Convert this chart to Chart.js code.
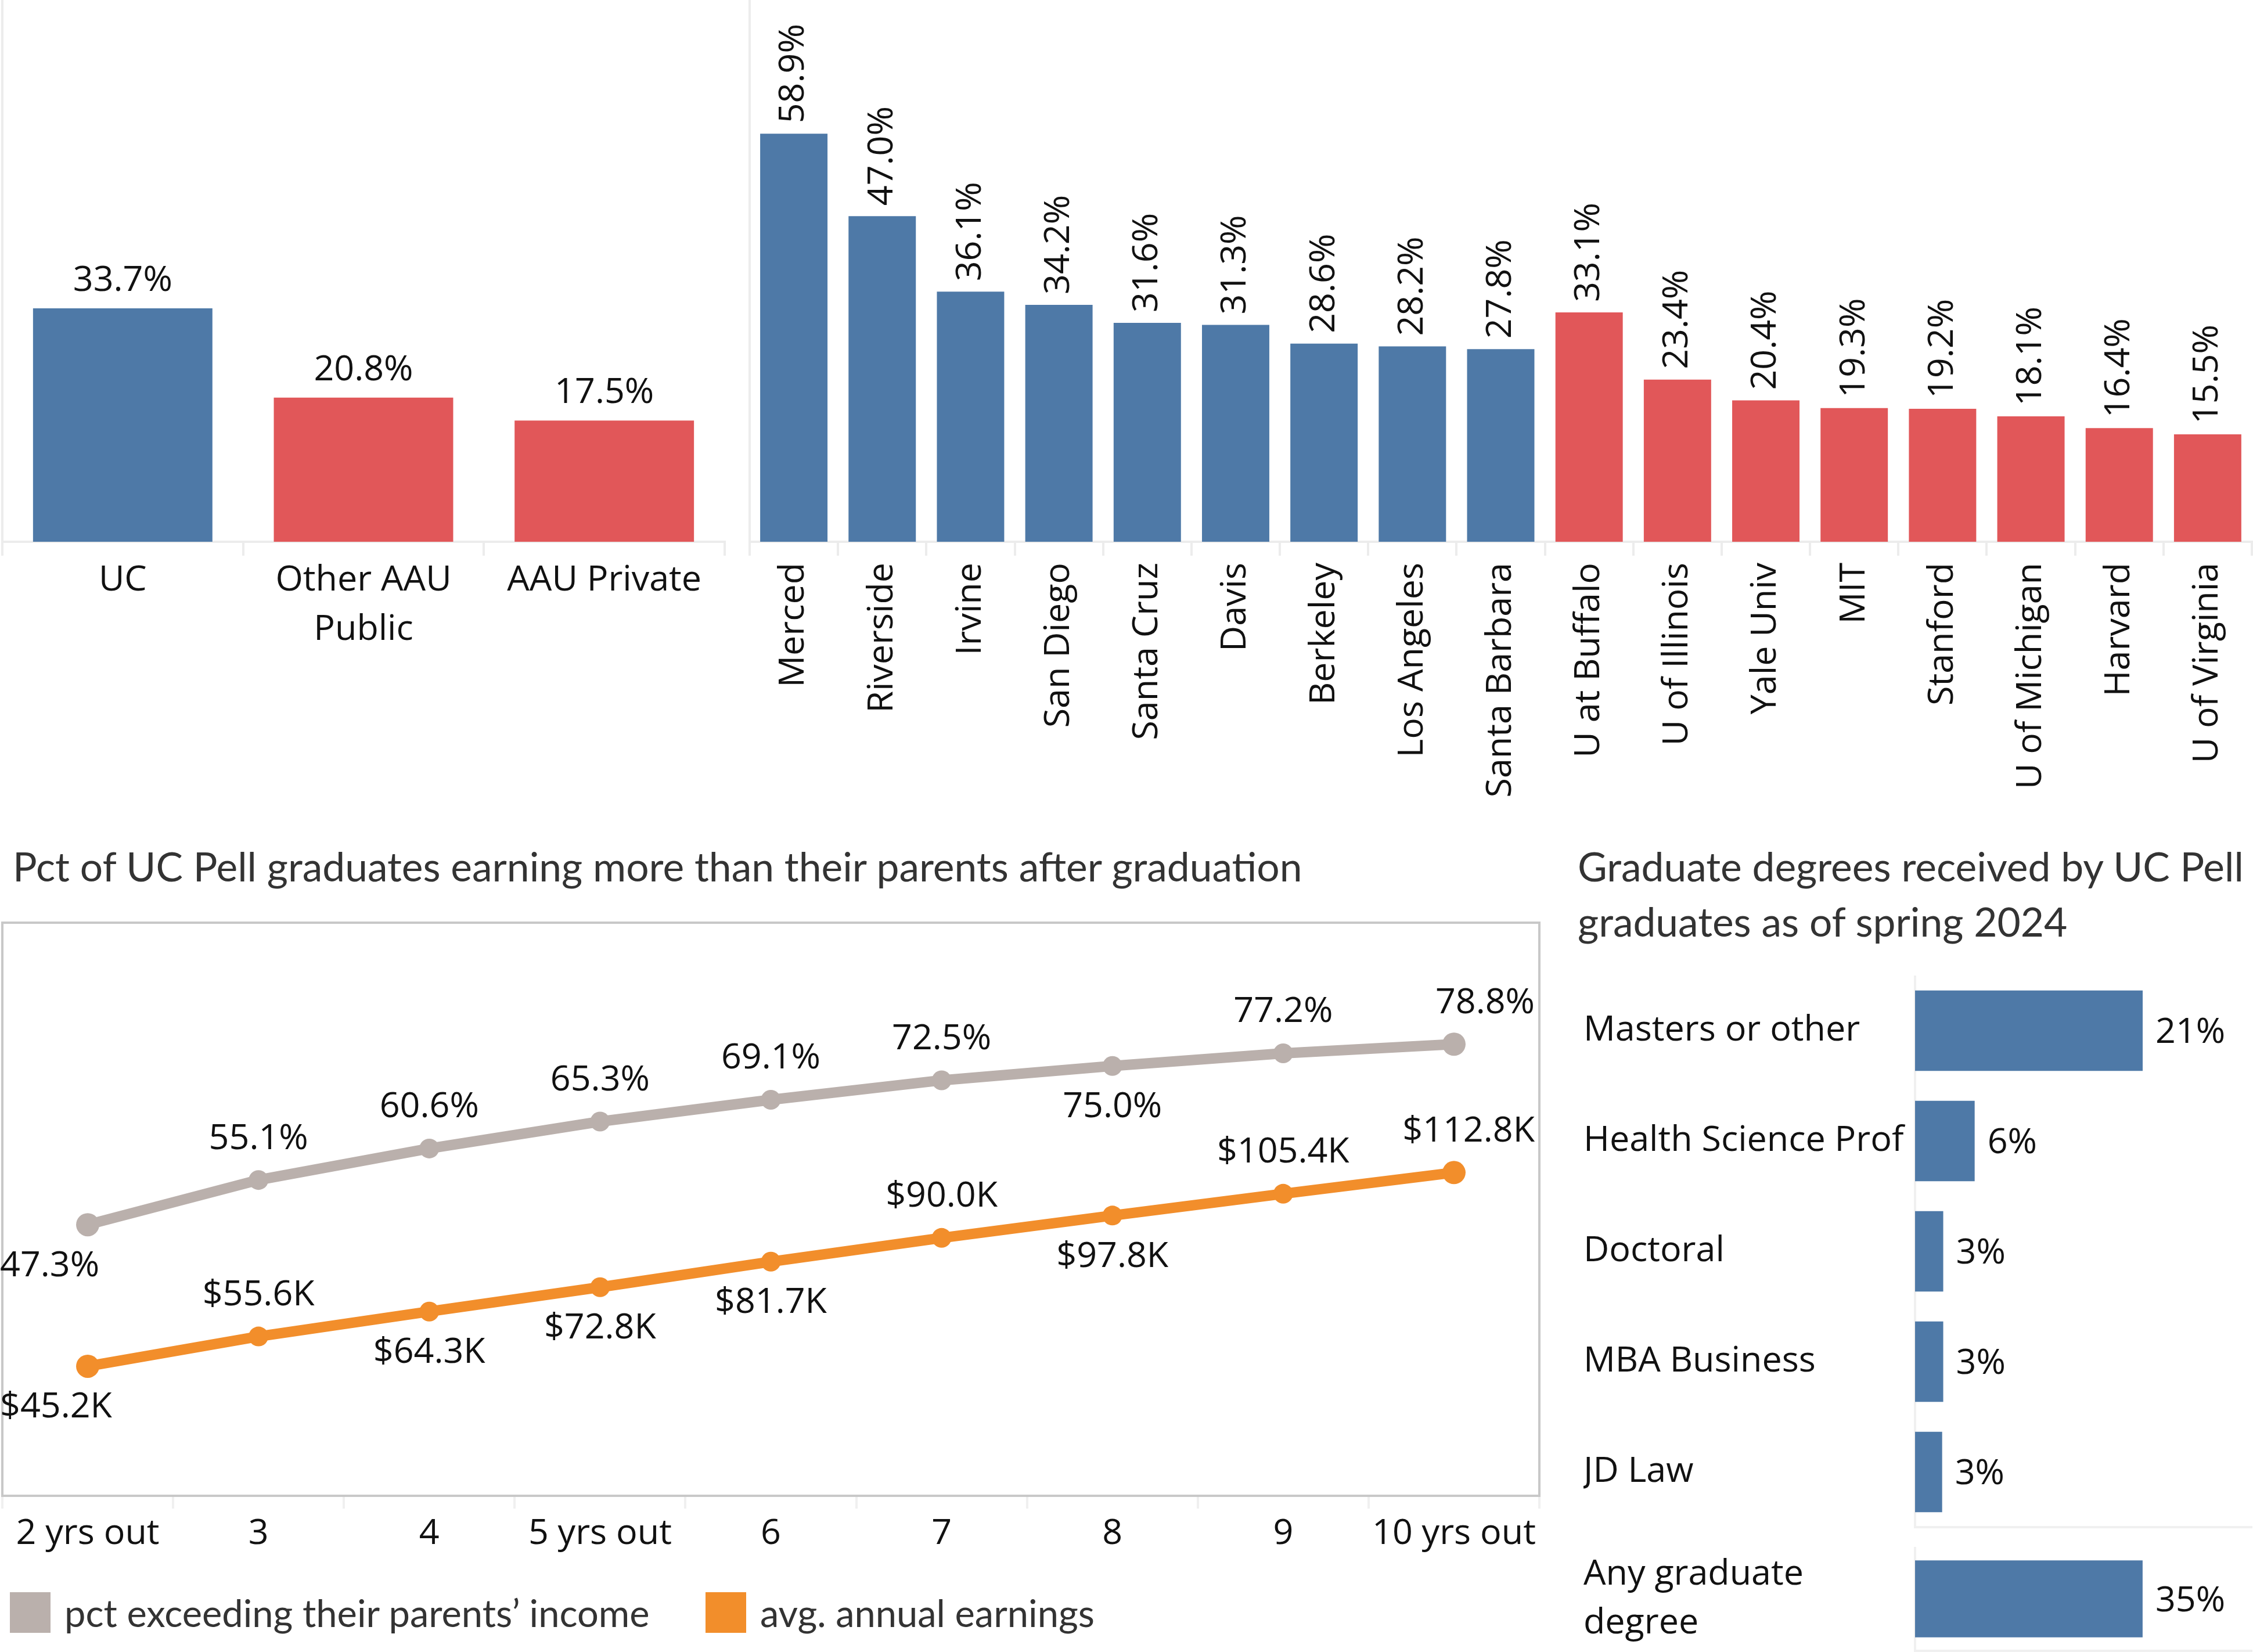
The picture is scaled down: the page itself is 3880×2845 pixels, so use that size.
<!DOCTYPE html>
<html><head><meta charset="utf-8">
<script src="https://cdn.jsdelivr.net/npm/chart.js@4.4.1/dist/chart.umd.min.js"></script>
<style>
html,body{margin:0;padding:0;background:#fff;}
body{width:3880px;height:2845px;position:relative;overflow:hidden;}
canvas{position:absolute;}
.title{position:absolute;font-family:Lato,sans-serif;font-size:69.5px;color:#333;line-height:95px;white-space:nowrap;}
.leg{position:absolute;top:2742px;height:70px;display:flex;align-items:center;font-family:Lato,sans-serif;font-size:65px;color:#333;white-space:nowrap;}
.sw{width:70px;height:70px;margin-right:24px;flex:none;}
</style></head><body>
<canvas id="cTop1" style="left:0;top:0" width="1250" height="1400"></canvas>
<canvas id="cTop2" style="left:1287px;top:0" width="2593" height="1400"></canvas>
<canvas id="cLine" style="left:0;top:1585px" width="2655" height="1120"></canvas>
<canvas id="cDeg" style="left:2727px;top:1680px" width="1153" height="952"></canvas>
<canvas id="cAny" style="left:2727px;top:2664px" width="1153" height="181"></canvas>
<div class="title" style="left:22px;top:1444px">Pct of UC Pell graduates earning more than their parents after graduation</div>
<div class="title" style="left:2717px;top:1444px">Graduate degrees received by UC Pell<br>graduates as of spring 2024</div>
<div class="leg" style="left:17px"><div class="sw" style="background:#bab0ac"></div>pct exceeding their parents’ income</div>
<div class="leg" style="left:1215px"><div class="sw" style="background:#f28e2b"></div>avg. annual earnings</div>
<script>
// ---------- data ----------
const groupLabels = ['UC', ['Other AAU', 'Public'], 'AAU Private'];
const groupValues = [33.7, 20.8, 17.5];
const groupType = ['UC', 'AAU', 'AAU'];

const schools = ['Merced', 'Riverside', 'Irvine', 'San Diego', 'Santa Cruz', 'Davis', 'Berkeley', 'Los Angeles', 'Santa Barbara',
  'U at Buffalo', 'U of Illinois', 'Yale Univ', 'MIT', 'Stanford', 'U of Michigan', 'Harvard', 'U of Virginia'];
const schoolValues = [58.9, 47.0, 36.1, 34.2, 31.6, 31.3, 28.6, 28.2, 27.8, 33.1, 23.4, 20.4, 19.3, 19.2, 18.1, 16.4, 15.5];
const schoolType = ['UC', 'UC', 'UC', 'UC', 'UC', 'UC', 'UC', 'UC', 'UC', 'AAU', 'AAU', 'AAU', 'AAU', 'AAU', 'AAU', 'AAU', 'AAU'];

const yearsOut = ['2 yrs out', '3', '4', '5 yrs out', '6', '7', '8', '9', '10 yrs out'];
const pctExceeding = [47.3, 55.1, 60.6, 65.3, 69.1, 72.5, 75.0, 77.2, 78.8];
const avgEarningsK = [45.2, 55.6, 64.3, 72.8, 81.7, 90.0, 97.8, 105.4, 112.8];

const degreeTypes = ['Masters or other', 'Health Science Prof', 'Doctoral', 'MBA Business', 'JD Law'];
const degreeShares = [21.0, 5.5, 2.6, 2.6, 2.5];
const anyDegreeLabels = [['Any graduate', 'degree']];
const anyDegreeShares = [35.0];

// ---------- style ----------
const BLUE = '#4e79a7', RED = '#e15759', GRAY = '#bab0ac', ORANGE = '#f28e2b';
const AXIS = '#ececec', BOX = '#c8c8c8', TXT = '#111';
const FONT = "'Open Sans', sans-serif";
Chart.defaults.font.family = FONT;
Chart.defaults.font.size = 61;
Chart.defaults.color = TXT;
Chart.defaults.animation = false;
Chart.defaults.plugins.legend.display = false;
Chart.defaults.plugins.tooltip.enabled = false;

function fixSize(w, h) {
  return s => {
    if (w !== null) s.width = w;
    if (h !== null) s.height = h;
    s.paddingLeft = 0; s.paddingRight = 0; s.paddingTop = 0; s.paddingBottom = 0;
  };
}

function makeLabels(cfg) {
  return {
    id: 'valueLabels',
    afterDatasetsDraw(chart) {
      const ctx = chart.ctx, area = chart.chartArea;
      ctx.save();
      ctx.font = '61px ' + FONT;
      ctx.fillStyle = TXT;
      chart.data.datasets.forEach((ds, di) => {
        const n = ds.data.length;
        chart.getDatasetMeta(di).data.forEach((el, i) => {
          const text = cfg.format(ds.data[i], di);
          const x = el.x, y = el.y;
          if (cfg.mode === 'above') {
            ctx.textAlign = 'center'; ctx.textBaseline = 'alphabetic';
            ctx.fillText(text, x, y - cfg.gap);
          } else if (cfg.mode === 'rotated') {
            ctx.save(); ctx.translate(x, y - cfg.gap); ctx.rotate(-Math.PI / 2);
            ctx.textAlign = 'left'; ctx.textBaseline = 'middle';
            ctx.fillText(text, 0, 0); ctx.restore();
          } else if (cfg.mode === 'right') {
            ctx.textAlign = 'left'; ctx.textBaseline = 'middle';
            ctx.fillText(text, x + cfg.gap, y + 4);
          } else if (cfg.mode === 'line') {
            const up = cfg.positions[di][i] === 'above';
            const w = ctx.measureText(text).width;
            let tx = x - w / 2;
            if (i === 0) tx = area.left - 4;
            else if (i === n - 1) tx = area.right - 8 - w;
            ctx.textAlign = 'left'; ctx.textBaseline = 'middle';
            ctx.fillText(text, tx, up ? y - cfg.gap : y + cfg.gap);
          }
        });
      });
      ctx.restore();
    }
  };
}

const baseOpts = { responsive: false, devicePixelRatio: 1, animation: false };

function hiddenY(max, width) {
  return { min: 0, max: max, display: true, ticks: { display: false }, grid: { display: false },
    border: { display: true, color: AXIS, width: 4 }, afterFit: fixSize(width, null) };
}

// ---------- top left: UC vs AAU ----------
new Chart(document.getElementById('cTop1'), {
  type: 'bar',
  data: { labels: groupLabels, datasets: [{ data: groupValues,
    backgroundColor: c => groupType[c.dataIndex] === 'UC' ? BLUE : RED,
    barPercentage: 0.745, categoryPercentage: 1 }] },
  options: Object.assign({}, baseOpts, {
    layout: { autoPadding: false, padding: { left: 0, right: 2, top: 0, bottom: 0 } },
    scales: {
      x: { offset: true, grid: { offset: true, drawOnChartArea: false, tickLength: 24, color: AXIS, lineWidth: 4 },
        border: { color: AXIS, width: 4 },
        ticks: { maxRotation: 0, autoSkip: false, padding: 0, font: { size: 61, lineHeight: 1.4 } },
        afterFit: fixSize(null, 467) },
      y: hiddenY(78.2, 4)
    }
  }),
  plugins: [makeLabels({ mode: 'above', gap: 30, format: v => v.toFixed(1) + '%' })]
});

// ---------- top right: campuses and peers ----------
new Chart(document.getElementById('cTop2'), {
  type: 'bar',
  data: { labels: schools, datasets: [{ data: schoolValues,
    backgroundColor: c => schoolType[c.dataIndex] === 'UC' ? BLUE : RED,
    barPercentage: 0.762, categoryPercentage: 1 }] },
  options: Object.assign({}, baseOpts, {
    layout: { autoPadding: false, padding: { left: 0, right: 2, top: 0, bottom: 0 } },
    scales: {
      x: { offset: true, grid: { offset: true, drawOnChartArea: false, tickLength: 24, color: AXIS, lineWidth: 4 },
        border: { color: AXIS, width: 4 },
        ticks: { minRotation: 90, maxRotation: 90, autoSkip: false, padding: 12 },
        afterFit: fixSize(null, 467) },
      y: hiddenY(78.2, 4)
    }
  }),
  plugins: [makeLabels({ mode: 'rotated', gap: 18, format: v => v.toFixed(1) + '%' })]
});

// ---------- bottom left: line chart ----------
const pointSize = c => (c.dataIndex === 0 || c.dataIndex === yearsOut.length - 1) ? 20 : 17;
new Chart(document.getElementById('cLine'), {
  type: 'line',
  data: { labels: yearsOut, datasets: [
    { label: 'pct exceeding their parents’ income', data: pctExceeding, yAxisID: 'yP',
      borderColor: GRAY, backgroundColor: GRAY, borderWidth: 18, tension: 0,
      pointRadius: pointSize, pointBorderWidth: 0, pointBackgroundColor: GRAY, clip: false },
    { label: 'avg. annual earnings', data: avgEarningsK, yAxisID: 'yE',
      borderColor: ORANGE, backgroundColor: ORANGE, borderWidth: 18, tension: 0,
      pointRadius: pointSize, pointBorderWidth: 0, pointBackgroundColor: ORANGE, clip: false }
  ] },
  options: Object.assign({}, baseOpts, {
    layout: { autoPadding: false, padding: { left: 0, right: 0, top: 4, bottom: 0 } },
    scales: {
      x: { offset: true, grid: { offset: true, drawOnChartArea: false, tickLength: 22, color: '#f0f0f0', lineWidth: 4 },
        border: { color: BOX, width: 4 },
        ticks: { maxRotation: 0, autoSkip: false, padding: 7 },
        afterFit: fixSize(null, 129) },
      yP: { position: 'left', min: 0, max: 100, ticks: { display: false, stepSize: 100 },
        grid: { drawTicks: false, lineWidth: 4, color: c => (c.tick && c.tick.value === 100) ? BOX : 'rgba(0,0,0,0)' },
        border: { display: true, color: BOX, width: 4 }, afterFit: fixSize(4, null) },
      yE: { position: 'right', min: 0, max: 200, ticks: { display: false }, grid: { display: false },
        border: { display: true, color: BOX, width: 4 }, afterFit: fixSize(4, null) }
    }
  }),
  plugins: [makeLabels({ mode: 'line', gap: 71,
    positions: [
      ['below', 'above', 'above', 'above', 'above', 'above', 'below', 'above', 'above'],
      ['below', 'above', 'below', 'below', 'below', 'above', 'below', 'above', 'above']
    ],
    format: (v, di) => di === 0 ? v.toFixed(1) + '%' : '$' + v.toFixed(1) + 'K' })]
});

// ---------- bottom right: graduate degrees ----------
function degreeChart(id, labels, values, max, lineH, barPct) {
  return new Chart(document.getElementById(id), {
    type: 'bar',
    data: { labels: labels, datasets: [{ data: values, backgroundColor: BLUE, barPercentage: barPct, categoryPercentage: 1 }] },
    options: Object.assign({}, baseOpts, {
      indexAxis: 'y',
      layout: { autoPadding: false, padding: { left: 0, right: 2, top: 0, bottom: 0 } },
      scales: {
        x: { min: 0, max: max, ticks: { display: false }, grid: { display: false },
          border: { display: true, color: '#f0f0f0', width: 4 }, afterFit: fixSize(null, 2) },
        y: { offset: true, ticks: { crossAlign: 'far', padding: 0, font: { size: 61, lineHeight: lineH } },
          grid: { display: false }, border: { display: true, color: '#f0f0f0', width: 4 },
          afterFit: fixSize(571, null) }
      }
    }),
    plugins: [makeLabels({ mode: 'right', gap: 22, format: v => Math.round(v) + '%' })]
  });
}
degreeChart('cDeg', degreeTypes, degreeShares, 31.07, 1.2, 0.73);
degreeChart('cAny', anyDegreeLabels, anyDegreeShares, 51.8, 1.38, 0.74);
</script>
</body></html>
